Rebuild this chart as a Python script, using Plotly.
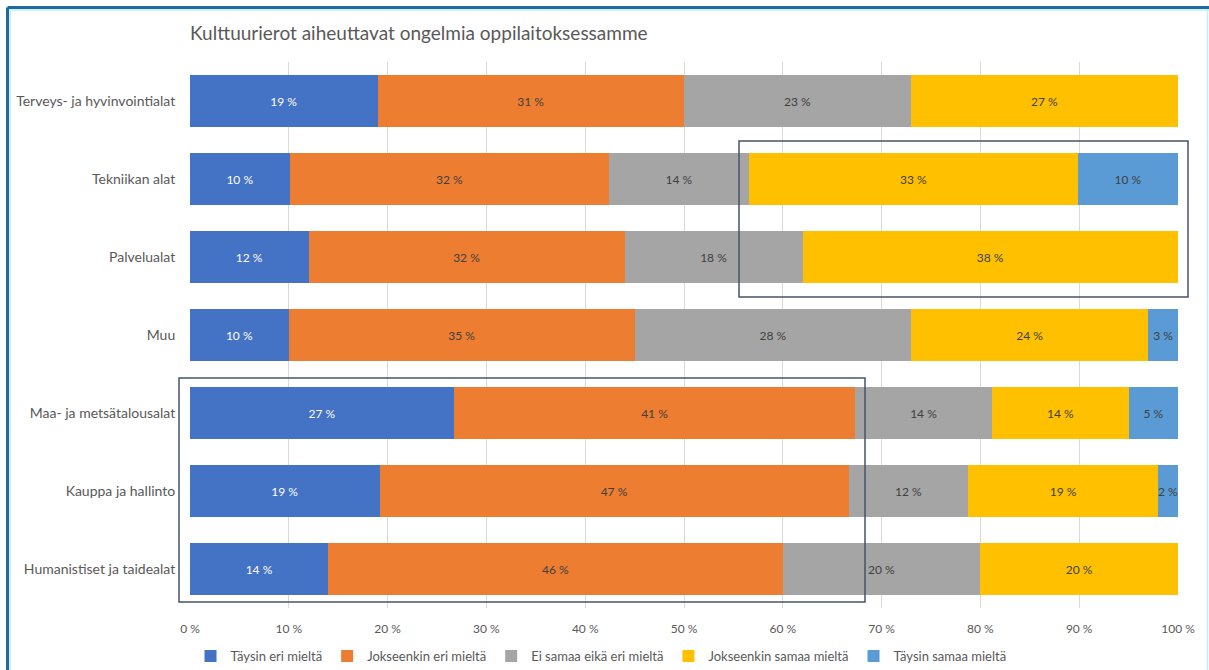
import plotly.graph_objects as go

# Survey results: share of answers per field of education
categories = [
    "Terveys- ja hyvinvointialat",
    "Tekniikan alat",
    "Palvelualat",
    "Muu",
    "Maa- ja metsätalousalat",
    "Kauppa ja hallinto",
    "Humanistiset ja taidealat",
]
series_names = [
    "Täysin eri mieltä",
    "Jokseenkin eri mieltä",
    "Ei samaa eikä eri mieltä",
    "Jokseenkin samaa mieltä",
    "Täysin samaa mieltä",
]
taysin_eri = [19, 10, 12, 10, 27, 19, 14]
jokseenkin_eri = [31, 32, 32, 35, 41, 47, 46]
ei_samaa_eika_eri = [23, 14, 18, 28, 14, 12, 20]
jokseenkin_samaa = [27, 33, 38, 24, 14, 19, 20]
taysin_samaa = [0, 10, 0, 3, 5, 2, 0]

series_values = [taysin_eri, jokseenkin_eri, ei_samaa_eika_eri, jokseenkin_samaa, taysin_samaa]
colors = ["#4472C4", "#ED7D31", "#A5A5A5", "#FFC000", "#5B9BD5"]
text_colors = ["#FFFFFF", "#404040", "#404040", "#404040", "#404040"]
tick_values = [0, 10, 20, 30, 40, 50, 60, 70, 80, 90, 100]
tick_labels = [f"{t} %" for t in tick_values]

FONT = "Lato, 'Open Sans', sans-serif"
W, H = 1209, 670
ML, MR, MT, MB = 190, 31, 62, 62

fig = go.Figure()
for name, vals, col, tcol in zip(series_names, series_values, colors, text_colors):
    fig.add_trace(go.Bar(
        y=categories,
        x=vals,
        name=name,
        orientation="h",
        marker=dict(color=col, line=dict(width=0)),
        text=[f"{v} %" if v else "" for v in vals],
        textposition="inside",
        insidetextanchor="middle",
        textangle=0,
        constraintext="none",
        textfont=dict(family=FONT, size=12, color=tcol),
        cliponaxis=False,
        hoverinfo="skip",
    ))


def px_x(px):
    return (px - ML) / (W - ML - MR)


def px_y(py):
    return (H - MB - py) / (H - MT - MB)


def frame_line(x0, y0, x1, y1, color, width):
    return dict(type="line", xref="paper", yref="paper",
                x0=px_x(x0), x1=px_x(x1), y0=px_y(y0), y1=px_y(y1),
                line=dict(color=color, width=width))


def box(x0, y0, x1, y1):
    return dict(type="rect", xref="paper", yref="paper",
                x0=px_x(x0), x1=px_x(x1), y0=px_y(y0), y1=px_y(y1),
                line=dict(color="#44546A", width=1.5),
                fillcolor="rgba(0,0,0,0)", layer="above")


shapes = [
    # outer frame
    frame_line(7.5, 7.5, 1209, 7.5, "#1F6AA5", 3),
    frame_line(7.5, 7.5, 7.5, 670, "#1F6AA5", 3),
    frame_line(9.5, 10, 1209, 10, "#BDEFF7", 1.5),
    frame_line(10, 9.5, 10, 670, "#BDEFF7", 1.5),
    frame_line(1207.5, 9.5, 1207.5, 670, "#BDEFF7", 1.5),
    # highlight boxes
    box(739, 141, 1188, 297),
    box(179, 378, 865, 602),
]

fig.update_layout(
    width=W, height=H,
    margin=dict(l=ML, r=MR, t=MT, b=MB, pad=0, autoexpand=False),
    paper_bgcolor="white",
    plot_bgcolor="white",
    barmode="stack",
    barnorm="percent",
    bargap=0.333,
    title=dict(
        text="Kulttuurierot aiheuttavat ongelmia oppilaitoksessamme",
        x=190 / W, xanchor="left",
        y=1 - 33 / H, yanchor="middle",
        font=dict(family=FONT, size=19, color="#595959"),
    ),
    font=dict(family=FONT, size=13, color="#595959"),
    xaxis=dict(
        range=[0, 100.001],
        tickvals=tick_values,
        ticktext=tick_labels,
        showgrid=True, gridcolor="#D9D9D9", gridwidth=1,
        zeroline=False, showline=False,
        tickfont=dict(family=FONT, size=12, color="#595959"),
        ticks="outside", ticklen=10, tickcolor="rgba(0,0,0,0)",
    ),
    yaxis=dict(
        autorange="reversed",
        showgrid=False, zeroline=False, showline=False,
        tickfont=dict(family=FONT, size=14, color="#595959"),
        ticks="outside", ticklen=11, tickcolor="rgba(0,0,0,0)",
    ),
    legend=dict(
        orientation="h",
        x=0.416, xanchor="center",
        y=px_y(656), yanchor="middle",
        font=dict(family=FONT, size=13, color="#595959"),
        itemwidth=30,
        traceorder="normal",
    ),
    shapes=shapes,
    showlegend=True,
)

fig.write_html("out.html")
